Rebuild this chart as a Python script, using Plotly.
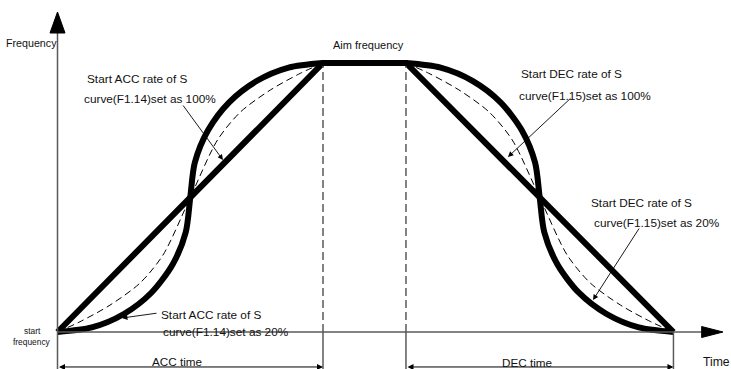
import plotly.graph_objects as go

# ---- key times (s, schematic) and frequency (% of aim frequency) ----
ACC_START = 0.0
ACC_END = 4.0
DEC_START = 5.25
DEC_END = 9.28
AIM_FREQ = 100.0
START_FREQ = 0.0

# straight-line (linear) ACC / DEC
linear_t = [ACC_START, ACC_END, DEC_START, DEC_END]
linear_f = [START_FREQ, AIM_FREQ, AIM_FREQ, START_FREQ]

# S curve, start rate set as 100%
s100_acc_t = [0.0, 0.518, 1.0, 1.414, 1.732, 1.932, 2.0, 2.068, 2.268, 2.586, 3.0, 3.482, 4.0]
s100_acc_f = [0.0, 1.7, 6.7, 14.6, 25.0, 37.1, 50.0, 62.9, 75.0, 85.4, 93.3, 98.3, 100.0]
s100_dec_t = [5.25, 5.772, 6.258, 6.675, 6.995, 7.196, 7.265, 7.334, 7.535, 7.855, 8.273, 8.758, 9.28]
s100_dec_f = [100.0, 98.3, 93.3, 85.4, 75.0, 62.9, 50.0, 37.1, 25.0, 14.6, 6.7, 1.7, 0.0]

# S curve, start rate set as 20% (dashed)
s20_acc_t = [0.0, 0.339, 0.791, 1.243, 1.589, 2.0, 2.411, 2.757, 3.209, 3.661, 4.0]
s20_acc_f = [0.0, 3.83, 10.0, 18.2, 28.6, 50.0, 71.4, 81.8, 90.0, 96.2, 100.0]
s20_dec_t = [5.25, 5.592, 6.047, 6.502, 6.851, 7.265, 7.679, 8.028, 8.483, 8.938, 9.28]
s20_dec_f = [100.0, 96.2, 90.0, 81.8, 71.4, 50.0, 28.6, 18.2, 10.0, 3.83, 0.0]

# ---- view ranges ----
X_MIN, X_MAX = -0.8663, 10.147
Y_MIN, Y_MAX = -13.75, 123.42
DIM_Y = -13.0

FONT = "Liberation Sans, Arial, sans-serif"
INK = "#111111"
GRAY = "#5a5a5a"

fig = go.Figure()

thick = dict(color="black", width=6)
fig.add_trace(go.Scatter(x=linear_t, y=linear_f, mode="lines", line=thick))
fig.add_trace(go.Scatter(x=s100_acc_t, y=s100_acc_f, mode="lines",
                         line=dict(color="black", width=6, shape="spline", smoothing=0.8)))
fig.add_trace(go.Scatter(x=s100_dec_t, y=s100_dec_f, mode="lines",
                         line=dict(color="black", width=6, shape="spline", smoothing=0.8)))
thin_dash = dict(color="black", width=1, dash="7px,4px", shape="spline", smoothing=0.8)
fig.add_trace(go.Scatter(x=s20_acc_t, y=s20_acc_f, mode="lines", line=thin_dash))
fig.add_trace(go.Scatter(x=s20_dec_t, y=s20_dec_f, mode="lines", line=thin_dash))

shapes = []
# y axis line + arrow head
shapes.append(dict(type="line", x0=ACC_START, x1=ACC_START, y0=Y_MIN, y1=111.5,
                   line=dict(color=GRAY, width=1.5)))
shapes.append(dict(type="path",
                   path=f"M {ACC_START-0.113} 111.15 L {ACC_START+0.113} 111.15 L {ACC_START} 118.96 Z",
                   fillcolor="black", line=dict(color="black", width=1)))
# x axis line + arrow head
shapes.append(dict(type="line", x0=ACC_START, x1=9.72, y0=START_FREQ, y1=START_FREQ,
                   line=dict(color=GRAY, width=1.5)))
shapes.append(dict(type="path",
                   path=f"M 9.705 {START_FREQ-2.05} L 9.705 {START_FREQ+2.05} L 10.026 {START_FREQ} Z",
                   fillcolor="black", line=dict(color="black", width=1)))
# extension lines
for tx in (ACC_END, DEC_START):
    shapes.append(dict(type="line", x0=tx, x1=tx, y0=START_FREQ, y1=AIM_FREQ - 1.2,
                       line=dict(color=GRAY, width=1.5, dash="8px,4px")))
    shapes.append(dict(type="line", x0=tx, x1=tx, y0=Y_MIN, y1=START_FREQ,
                       line=dict(color=GRAY, width=1.5)))
shapes.append(dict(type="line", x0=DEC_END, x1=DEC_END, y0=Y_MIN, y1=START_FREQ,
                   line=dict(color=GRAY, width=1.5)))

annotations = []
# dimension lines
for a, b in ((ACC_START, ACC_END), (DEC_START, DEC_END)):
    annotations.append(dict(x=b, y=DIM_Y, ax=a, ay=DIM_Y, xref="x", yref="y",
                            axref="x", ayref="y", text="", showarrow=True,
                            arrowhead=2, arrowside="end+start", arrowsize=1.2,
                            arrowwidth=1, arrowcolor="black"))

# leader lines (tail -> head)
leaders = [((1.876, 84.76), (2.493, 63.94)),
           ((1.514, 7.06), (0.972, 5.2)),
           ((7.751, 87.36), (6.787, 65.06)),
           ((8.776, 39.03), (8.068, 11.9))]
for (tx0, fy0), (tx1, fy1) in leaders:
    annotations.append(dict(x=tx1, y=fy1, ax=tx0, ay=fy0, xref="x", yref="y",
                            axref="x", ayref="y", text="", showarrow=True,
                            arrowhead=2, arrowsize=1.2, arrowwidth=0.9,
                            arrowcolor="black"))

def label(text, x, y, size, anchor="center"):
    annotations.append(dict(x=x, y=y, xref="x", yref="y", text=text, showarrow=False,
                            xanchor=anchor, yanchor="middle", borderpad=0,
                            font=dict(family=FONT, size=size, color=INK)))

label("Frequency", -0.392, 107.4, 10.7)
label("Aim frequency", 4.678, 106.7, 11)
label("Start ACC rate of S", 0.429, 94.05, 11.8, "left")
label("curve(F1.14)set as 100%", 0.384, 86.62, 11.8, "left")
label("Start ACC rate of S", 1.544, 6.32, 11.8, "left")
label("curve(F1.14)set as 20%", 1.574, 0.0, 11.8, "left")
label("Start DEC rate of S", 6.968, 95.9, 11.8, "left")
label("curve(F1.15)set as 100%", 6.938, 87.73, 11.8, "left")
label("Start DEC rate of S", 8.023, 47.96, 11.8, "left")
label("curve(F1.15)set as 20%", 8.068, 40.52, 11.8, "left")
label("start", -0.384, 0.37, 8.4)
label("frequency", -0.384, -3.72, 8.4)
label("ACC time", 1.8, -10.78, 11.7)
label("DEC time", 7.073, -11.15, 11.7)
label("Time", 9.921, -11.15, 12.2)

fig.update_layout(
    width=731, height=369, autosize=False,
    margin=dict(l=0, r=0, t=0, b=0),
    paper_bgcolor="white", plot_bgcolor="white",
    showlegend=False, hovermode=False,
    xaxis=dict(range=[X_MIN, X_MAX], visible=False, fixedrange=True),
    yaxis=dict(range=[Y_MIN, Y_MAX], visible=False, fixedrange=True),
    shapes=shapes, annotations=annotations,
)

fig.write_html(
    "out.html",
    config={"displayModeBar": False, "staticPlot": True},
    post_script="document.body.style.margin='0';document.body.style.overflow='hidden';",
)
